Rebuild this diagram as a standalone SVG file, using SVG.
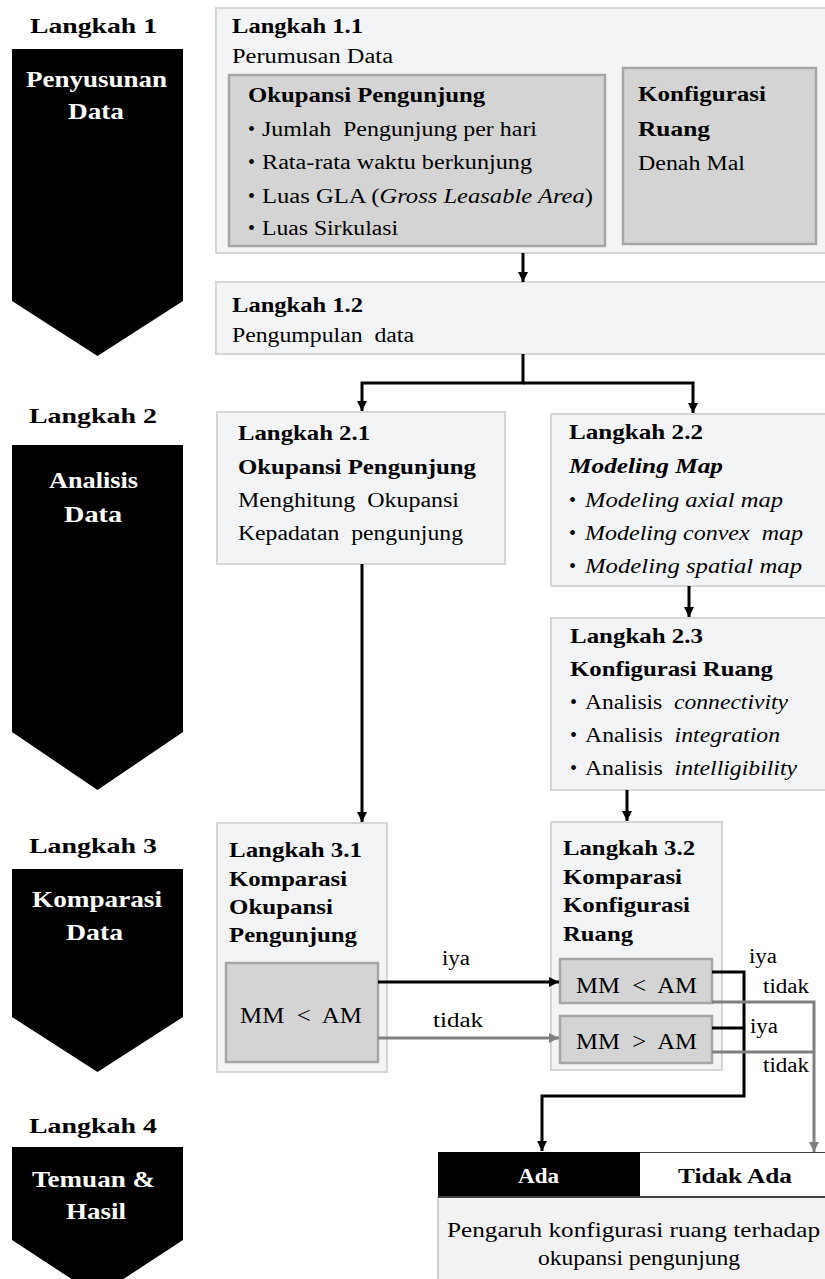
<svg xmlns="http://www.w3.org/2000/svg" width="825" height="1279" viewBox="0 0 825 1279">
<style>
text{font-family:"Liberation Serif","Times New Roman",serif;fill:#000}
.h{font-weight:bold;font-size:22px}
.w{font-weight:bold;font-size:24px;fill:#fff}
.b{font-weight:bold;font-size:21px}
.r{font-size:20px}
.m{font-size:23px}
.s{font-size:20px}
.i{font-style:italic}
.box{fill:#f3f4f6;stroke:#d6d6d6;stroke-width:2}
.inner{fill:#d4d4d4;stroke:#a6a6a6;stroke-width:2.5}
.chev{fill:#000}
.k{stroke:#000;stroke-width:3;fill:none}
.g{stroke:#808080;stroke-width:3;fill:none}
</style>
<defs>
<marker id="ak" markerUnits="userSpaceOnUse" markerWidth="11" markerHeight="11" refX="10" refY="5" orient="auto"><path d="M0,0 L10,5 L0,10 z" fill="#000"/></marker>
<marker id="ag" markerUnits="userSpaceOnUse" markerWidth="11" markerHeight="11" refX="10" refY="5" orient="auto"><path d="M0,0 L10,5 L0,10 z" fill="#808080"/></marker>
</defs>
<rect width="825" height="1279" fill="#fff"/>

<g id="step1">
<text class="h" x="30" y="33" textLength="127" lengthAdjust="spacingAndGlyphs">Langkah 1</text>
<polygon class="chev" points="12,49 183,49 183,301 97.5,356 12,301"/>
<text class="w" x="26" y="87" textLength="141" lengthAdjust="spacingAndGlyphs">Penyusunan</text>
<text class="w" x="68" y="119" textLength="56" lengthAdjust="spacingAndGlyphs">Data</text>
</g>
<g id="step2">
<text class="h" x="29" y="423" textLength="128" lengthAdjust="spacingAndGlyphs">Langkah 2</text>
<polygon class="chev" points="12,445 183,445 183,732 97.5,790 12,732"/>
<text class="w" x="49" y="488" textLength="89" lengthAdjust="spacingAndGlyphs">Analisis</text>
<text class="w" x="64" y="522" textLength="58" lengthAdjust="spacingAndGlyphs">Data</text>
</g>
<g id="step3">
<text class="h" x="29" y="853" textLength="128" lengthAdjust="spacingAndGlyphs">Langkah 3</text>
<polygon class="chev" points="12,869 183,869 183,1017 97.5,1072 12,1017"/>
<text class="w" x="32" y="907" textLength="130" lengthAdjust="spacingAndGlyphs">Komparasi</text>
<text class="w" x="66" y="940" textLength="57" lengthAdjust="spacingAndGlyphs">Data</text>
</g>
<g id="step4">
<text class="h" x="29" y="1133" textLength="128" lengthAdjust="spacingAndGlyphs">Langkah 4</text>
<polygon class="chev" points="12,1147 183,1147 183,1240 97.5,1296 12,1240"/>
<text class="w" x="32" y="1187" textLength="123" lengthAdjust="spacingAndGlyphs">Temuan &amp;</text>
<text class="w" x="66" y="1219" textLength="60" lengthAdjust="spacingAndGlyphs">Hasil</text>
</g>

<g id="n11">
<rect class="box" x="216" y="8" width="630" height="245"/>
<text class="b" x="232" y="33" textLength="131" lengthAdjust="spacingAndGlyphs">Langkah 1.1</text>
<text class="r" x="232" y="63" textLength="161" lengthAdjust="spacingAndGlyphs">Perumusan Data</text>
</g>
<g id="n11a">
<rect class="inner" x="229" y="75" width="376" height="171"/>
<text class="b" x="248" y="102" textLength="237" lengthAdjust="spacingAndGlyphs">Okupansi Pengunjung</text>
<text class="s" x="248" y="136">•</text>
<text class="r" x="262" y="136" textLength="275" lengthAdjust="spacingAndGlyphs" xml:space="preserve">Jumlah  Pengunjung per hari</text>
<text class="s" x="248" y="169">•</text>
<text class="r" x="262" y="169" textLength="270" lengthAdjust="spacingAndGlyphs">Rata-rata waktu berkunjung</text>
<text class="s" x="248" y="203">•</text>
<text class="r" x="262" y="203" textLength="331" lengthAdjust="spacingAndGlyphs">Luas GLA (<tspan class="i">Gross Leasable Area</tspan>)</text>
<text class="s" x="248" y="235">•</text>
<text class="r" x="262" y="235" textLength="136" lengthAdjust="spacingAndGlyphs">Luas Sirkulasi</text>
</g>
<g id="n11b">
<rect class="inner" x="623" y="68" width="193" height="176"/>
<text class="b" x="638" y="101" textLength="128" lengthAdjust="spacingAndGlyphs">Konfigurasi</text>
<text class="b" x="638" y="136" textLength="72" lengthAdjust="spacingAndGlyphs">Ruang</text>
<text class="r" x="638" y="170" textLength="107" lengthAdjust="spacingAndGlyphs">Denah Mal</text>
</g>

<g id="n12">
<rect class="box" x="216" y="282" width="630" height="72"/>
<text class="b" x="232" y="312" textLength="131" lengthAdjust="spacingAndGlyphs">Langkah 1.2</text>
<text class="r" x="232" y="342" textLength="182" lengthAdjust="spacingAndGlyphs" xml:space="preserve">Pengumpulan  data</text>
</g>

<g id="n21">
<rect class="box" x="217" y="412" width="288" height="152"/>
<text class="b" x="238" y="440" textLength="132" lengthAdjust="spacingAndGlyphs">Langkah 2.1</text>
<text class="b" x="238" y="474" textLength="238" lengthAdjust="spacingAndGlyphs">Okupansi Pengunjung</text>
<text class="r" x="238" y="507" textLength="221" lengthAdjust="spacingAndGlyphs" xml:space="preserve">Menghitung  Okupansi</text>
<text class="r" x="238" y="540" textLength="225" lengthAdjust="spacingAndGlyphs" xml:space="preserve">Kepadatan  pengunjung</text>
</g>

<g id="n22">
<rect class="box" x="551" y="414" width="290" height="172"/>
<text class="b" x="569" y="439" textLength="134" lengthAdjust="spacingAndGlyphs">Langkah 2.2</text>
<text class="b i" x="569" y="473" textLength="154" lengthAdjust="spacingAndGlyphs">Modeling Map</text>
<text class="s" x="569" y="507">•</text>
<text class="r i" x="585" y="507" textLength="198" lengthAdjust="spacingAndGlyphs">Modeling axial map</text>
<text class="s" x="569" y="540">•</text>
<text class="r i" x="585" y="540" textLength="218" lengthAdjust="spacingAndGlyphs" xml:space="preserve">Modeling convex  map</text>
<text class="s" x="569" y="573">•</text>
<text class="r i" x="585" y="573" textLength="217" lengthAdjust="spacingAndGlyphs">Modeling spatial map</text>
</g>

<g id="n23">
<rect class="box" x="551" y="618" width="290" height="172"/>
<text class="b" x="570" y="643" textLength="133" lengthAdjust="spacingAndGlyphs">Langkah 2.3</text>
<text class="b" x="570" y="676" textLength="203" lengthAdjust="spacingAndGlyphs">Konfigurasi Ruang</text>
<text class="s" x="570" y="709">•</text>
<text class="r" x="585" y="709" textLength="203" lengthAdjust="spacingAndGlyphs" xml:space="preserve">Analisis  <tspan class="i">connectivity</tspan></text>
<text class="s" x="570" y="742">•</text>
<text class="r" x="585" y="742" textLength="195" lengthAdjust="spacingAndGlyphs" xml:space="preserve">Analisis  <tspan class="i">integration</tspan></text>
<text class="s" x="570" y="775">•</text>
<text class="r" x="585" y="775" textLength="212" lengthAdjust="spacingAndGlyphs" xml:space="preserve">Analisis  <tspan class="i">intelligibility</tspan></text>
</g>

<g id="n31">
<rect class="box" x="217" y="823" width="170" height="249"/>
<text class="b" x="229" y="857" textLength="133" lengthAdjust="spacingAndGlyphs">Langkah 3.1</text>
<text class="b" x="229" y="886" textLength="118" lengthAdjust="spacingAndGlyphs">Komparasi</text>
<text class="b" x="229" y="914" textLength="104" lengthAdjust="spacingAndGlyphs">Okupansi</text>
<text class="b" x="229" y="942" textLength="128" lengthAdjust="spacingAndGlyphs">Pengunjung</text>
<rect class="inner" x="226" y="963" width="152" height="99"/>
<text class="m" x="240" y="1023" textLength="122" lengthAdjust="spacingAndGlyphs" xml:space="preserve">MM  &lt;  AM</text>
</g>

<g id="n32">
<rect class="box" x="551" y="822" width="171" height="248"/>
<text class="b" x="563" y="855" textLength="132" lengthAdjust="spacingAndGlyphs">Langkah 3.2</text>
<text class="b" x="563" y="884" textLength="119" lengthAdjust="spacingAndGlyphs">Komparasi</text>
<text class="b" x="563" y="912" textLength="127" lengthAdjust="spacingAndGlyphs">Konfigurasi</text>
<text class="b" x="563" y="941" textLength="70" lengthAdjust="spacingAndGlyphs">Ruang</text>
<rect class="inner" x="560" y="959" width="152" height="44"/>
<text class="m" x="576" y="993" textLength="121" lengthAdjust="spacingAndGlyphs" xml:space="preserve">MM  &lt;  AM</text>
<rect class="inner" x="560" y="1016" width="152" height="47"/>
<text class="m" x="576" y="1049" textLength="121" lengthAdjust="spacingAndGlyphs" xml:space="preserve">MM  &gt;  AM</text>
</g>

<g id="n4">
<rect x="438" y="1197" width="400" height="100" fill="#f2f2f2" stroke="#d0d0d0" stroke-width="2"/>
<rect x="438" y="1152" width="202" height="45" fill="#000"/>
<rect x="640" y="1152" width="200" height="45" fill="#fff"/>
<line x1="640" y1="1152.5" x2="825" y2="1152.5" stroke="#404040" stroke-width="1"/>
<line x1="438" y1="1197" x2="825" y2="1197" stroke="#404040" stroke-width="2"/>
<text class="w" x="518" y="1183" textLength="41" lengthAdjust="spacingAndGlyphs" style="font-size:20px">Ada</text>
<text class="b" x="678" y="1183" textLength="114" lengthAdjust="spacingAndGlyphs" style="font-size:20px">Tidak Ada</text>
<text class="r" x="447" y="1237" textLength="373" lengthAdjust="spacingAndGlyphs" style="font-size:21px">Pengaruh konfigurasi ruang terhadap</text>
<text class="r" x="538" y="1265" textLength="202" lengthAdjust="spacingAndGlyphs" style="font-size:21px">okupansi pengunjung</text>
</g>

<g id="connectors">
<path class="k" d="M523,253 V282" marker-end="url(#ak)"/>
<path class="k" d="M523,354 V383 H362 V411" marker-end="url(#ak)"/>
<path class="k" d="M523,383 H693 V413" marker-end="url(#ak)"/>
<path class="k" d="M362,564 V822" marker-end="url(#ak)"/>
<path class="k" d="M689,586 V617" marker-end="url(#ak)"/>
<path class="k" d="M627,790 V821" marker-end="url(#ak)"/>
<path class="k" d="M378,982 H559" marker-end="url(#ak)"/>
<path class="g" d="M378,1038 H559" marker-end="url(#ag)"/>
<path class="k" d="M712,972 H744 V1096 H542 V1151" marker-end="url(#ak)"/>
<path class="k" d="M712,1028 H744"/>
<path class="g" d="M712,1002 H814 V1152" marker-end="url(#ag)"/>
<path class="g" d="M712,1052 H814"/>
<text class="r" x="442" y="965" textLength="28" lengthAdjust="spacingAndGlyphs">iya</text>
<text class="r" x="433" y="1027" textLength="50" lengthAdjust="spacingAndGlyphs">tidak</text>
<text class="r" x="749" y="963" textLength="28" lengthAdjust="spacingAndGlyphs">iya</text>
<text class="r" x="763" y="993" textLength="46" lengthAdjust="spacingAndGlyphs">tidak</text>
<text class="r" x="750" y="1033" textLength="28" lengthAdjust="spacingAndGlyphs">iya</text>
<text class="r" x="763" y="1072" textLength="46" lengthAdjust="spacingAndGlyphs">tidak</text>
</g>
</svg>
